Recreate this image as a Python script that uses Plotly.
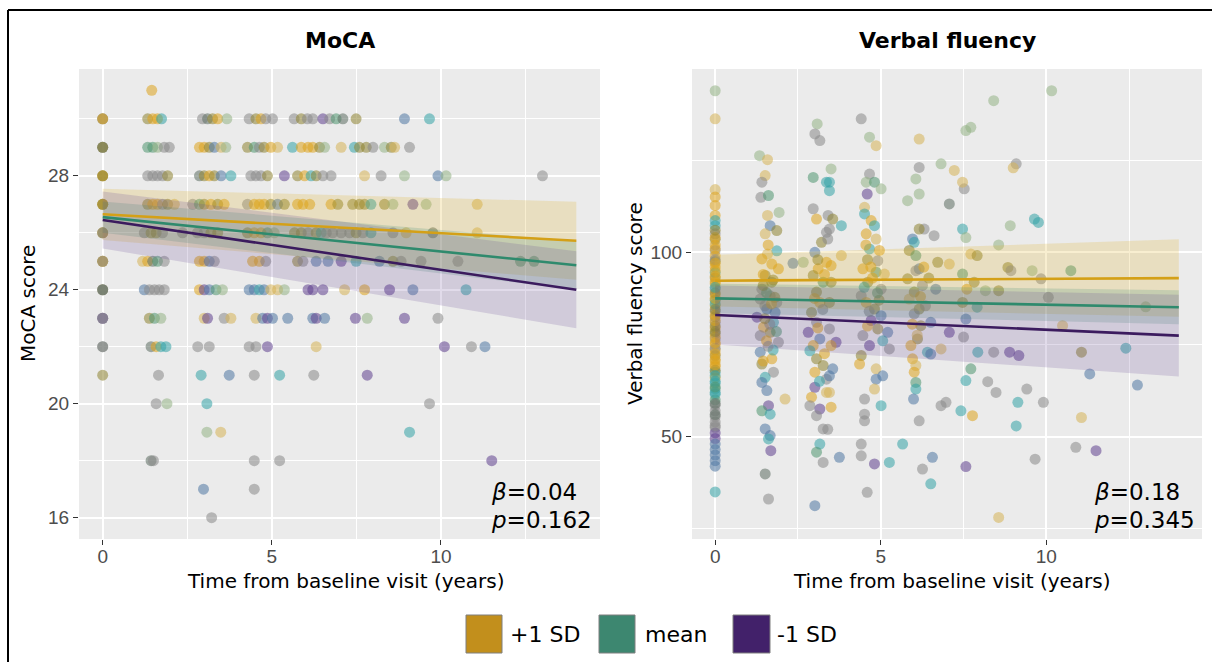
import plotly.graph_objects as go

# ---------------- data ----------------
# MoCA: for each score, the times (years) of the observations and the colour code of each one
moca_rows = {
    31: ([1.45], "g"),
    30: ([0, 0, 0, 1.33, 1.48, 1.62, 1.74, 2.95, 3.10, 3.25, 3.40, 3.67, 4.33, 4.53, 4.68, 4.82, 5.02, 5.66,
          5.87, 6.05, 6.21, 6.51, 6.71, 6.90, 7.10, 7.49, 8.92, 9.66], "oygogg" + "tydoglyogyyyoyypyedobt"),
    29: ([0, 0, 0, 1.33, 1.48, 1.62, 1.82, 1.97, 2.86, 3.0, 3.15, 3.30, 3.50, 3.64, 4.28, 4.48, 4.63, 4.77,
          4.97, 5.17, 5.61, 5.87, 6.07, 6.21, 6.41, 6.56, 7.05, 7.44, 7.59, 7.79, 7.99, 8.33, 8.53, 8.63, 9.07],
         "ydoeelyyggobnloeyogntgggolntooylony"),
    28: ([0, 0, 0, 1.33, 1.48, 1.62, 1.77, 1.92, 2.86, 3.0, 3.15, 3.30, 3.50, 3.79, 4.38, 4.53, 4.68, 4.87,
          5.37, 5.76, 5.97, 6.16, 6.31, 6.51, 6.75, 7.74, 8.23, 8.92, 9.91, 10.15, 13.0],
         "ogoyyyyodogobtyyyopogtoyynylbly"),
    27: ([0, 0, 0, 1.33, 1.48, 1.62, 1.77, 1.92, 2.12, 2.66, 2.86, 3.0, 3.20, 3.40, 3.59, 4.28, 4.48, 4.63,
          4.77, 4.97, 5.17, 5.37, 5.76, 5.92, 6.12, 6.75, 6.95, 7.39, 7.59, 7.74, 7.93, 8.33, 8.58, 9.17,
          9.56, 11.07], "ogooggyonyeogogygggoboggggooootolpln"),
    26: ([0, 0, 0, 1.23, 1.43, 1.58, 1.77, 2.36, 2.8, 3.0, 3.2, 3.4, 4.28, 4.48, 4.68, 4.87, 5.07, 5.67,
          5.87, 6.07, 6.31, 6.46, 6.61, 6.80, 7.05, 7.30, 7.49, 7.69, 7.93, 8.58, 8.97, 9.76, 11.07],
         "goyyooyyyyoooggelooyotyyyyoytyndn"),
    25: ([0, 0, 0, 1.18, 1.33, 1.48, 1.62, 1.82, 2.86, 3.0, 3.15, 3.30, 4.43, 4.63, 4.82, 5.76, 5.92, 6.31,
          6.66, 7.05, 7.49, 8.18, 8.58, 8.82, 9.41, 10.5, 12.35, 12.75], "ogyngdeyggbyggyoybbptboyyyee"),
    24: ([0, 0, 0, 1.23, 1.38, 1.53, 1.67, 1.82, 2.86, 3.0, 3.15, 3.35, 3.54, 4.33, 4.48, 4.63, 4.77, 4.97,
          5.17, 5.37, 6.07, 6.21, 6.51, 7.15, 7.74, 8.48, 9.17, 10.74], "oydbyyyygpbelbbtbnnlpppngpbt"),
    23: ([0, 0, 0, 1.38, 1.53, 1.72, 3.0, 3.1, 3.59, 3.79, 4.53, 4.73, 4.87, 5.02, 5.47, 6.21, 6.31, 6.56,
          7.47, 7.82, 8.92, 9.91], "ypyoelnpynnbpbbbpbplpy"),
    22: ([0, 0, 1.43, 1.58, 1.72, 1.87, 2.81, 3.15, 4.33, 4.53, 4.87, 6.31, 10.1, 10.9, 11.3], "dydgttyyyypnpyb"),
    21: ([0, 1.65, 2.91, 3.74, 4.48, 5.23, 6.24, 7.82], "oytbytyp"),
    20: ([1.58, 1.9, 3.08, 9.66], "ylty"),
    19: ([3.08, 3.49, 9.07], "lnt"),
    18: ([1.43, 1.5, 4.48, 5.23, 11.5], "dyyyp"),
    17: ([2.98, 4.48], "by"),
    16: ([3.22], "y"),
}

# Verbal fluency: (time in years, score, colour code) per visit wave
vf_baseline_scores = [143.8, 136.2, 117, 115, 112.7, 110, 108.6, 107.2,
                      105, 103.5, 102, 100.5, 99, 97.5, 96, 94.5, 93, 91.5, 90, 88.5, 87, 85.5, 84, 82.5, 81,
                      79.5, 78, 76.5, 75, 73.5, 72, 70.5, 69, 67.5, 66, 64.5, 63, 61.5, 60, 58.5, 57, 55.5,
                      54, 52.5, 51, 49.5, 46.5, 45, 43.5, 42, 35,
                      104, 98, 95, 92, 89, 86, 83, 80, 77, 74, 71, 68, 65, 62, 56, 53,
                      106, 101, 97, 93.5, 90.5, 87.5, 84.5, 81.5, 78.5, 75.5, 72.5, 69.5, 66.5, 63.5, 59, 48]
vf_baseline_codes = ("lnngggtt" + "yogygogtogygegyoygoyggoggtgteteyyyyyppbbbbt"
                     + "gyggotgogygottdy" + "ogggtgogogggtedb")

vf_wave_1_5 = [(1.34, 126.2, "l"), (1.58, 125.1, "n"), (1.51, 120.8, "n"), (1.41, 119, "y"), (1.38, 114.9, "y"),
               (1.61, 115.4, "e"), (1.93, 110.8, "l"), (1.58, 110, "n"), (1.66, 107.2, "b"), (1.86, 105.9, "o"),
               (1.51, 105, "n"), (1.86, 100.4, "t"), (1.58, 99.5, "n"), (1.41, 98.2, "g"), (1.71, 96.8, "g"),
               (1.91, 95.5, "g"), (1.51, 93.7, "o"), (1.71, 91.9, "o"), (1.41, 90, "y"), (1.66, 88.2, "y"),
               (1.36, 87.3, "y"), (1.86, 86.4, "y"), (1.56, 84.6, "b"), (1.81, 83.7, "b"), (1.26, 82.4, "p"),
               (1.76, 81, "t"), (1.46, 79.7, "g"), (1.66, 78.3, "o"), (1.36, 77.4, "y"), (1.91, 75.6, "y"),
               (1.36, 72.9, "b"), (1.71, 71.1, "g"), (1.41, 69.7, "o"), (1.76, 67.5, "y"), (1.51, 66.1, "t"),
               (1.41, 64.7, "b"), (1.56, 62.5, "b"), (2.11, 60.2, "n"), (1.61, 58.4, "p"), (1.41, 57, "e"),
               (1.66, 56.1, "t"), (1.51, 52.1, "b"), (1.66, 50.3, "b"), (1.61, 49.4, "t"), (1.68, 46.2, "p"),
               (1.51, 39.9, "d"), (1.61, 33.1, "y"), (1.45, 94, "g"), (1.75, 92.5, "o"), (1.55, 89, "e"),
               (1.8, 87.8, "o"), (1.5, 85.5, "y"), (1.65, 80.5, "y"), (1.55, 76, "g"), (1.75, 73.5, "t"),
               (2.35, 97, "b"), (2.66, 97.3, "l"), (1.6, 102, "g"), (1.45, 91, "o"), (1.7, 86, "g"),
               (1.5, 82, "o"), (1.85, 78.5, "e"), (1.6, 74.5, "y"), (1.45, 70.5, "g")]

vf_wave_3 = [(3.08, 134.8, "l"), (3.01, 132.1, "y"), (3.16, 130.3, "y"), (2.96, 120.3, "e"), (3.36, 119, "t"),
             (2.96, 111.8, "y"), (3.06, 109, "g"), (3.41, 110, "y"), (3.36, 105.4, "y"), (3.21, 102.7, "o"),
             (3.01, 100, "b"), (3.36, 97.3, "g"), (3.11, 95.5, "g"), (2.96, 93.7, "o"), (3.26, 91.9, "e"),
             (3.06, 89.2, "o"), (3.16, 86.4, "g"), (2.91, 83.7, "o"), (3.06, 81, "y"), (2.81, 78.3, "p"),
             (3.16, 76.5, "b"), (2.96, 74.7, "g"), (2.86, 73.3, "t"), (3.06, 71.1, "o"), (3.26, 69.3, "o"),
             (3.01, 67.5, "g"), (3.36, 65.6, "y"), (3.01, 63.4, "p"), (3.36, 62, "n"), (2.91, 60.7, "g"),
             (2.86, 58.4, "y"), (3.16, 57.5, "p"), (3.06, 55.7, "y"), (3.26, 52.1, "y"), (3.16, 48, "t"),
             (3.06, 45.8, "e"), (3.26, 43, "y"), (3.01, 31.3, "b"),
             (3.5, 122.6, "l"), (3.45, 119, "t"), (3.45, 116.7, "t"), (3.55, 109, "o"), (3.81, 107.2, "t"),
             (3.45, 106.3, "y"), (3.40, 103.6, "y"), (3.81, 99.1, "n"), (3.5, 96.4, "g"), (3.5, 91.9, "o"),
             (3.45, 86.4, "o"), (3.45, 79.2, "y"), (3.65, 75.6, "p"), (3.5, 74.7, "g"), (3.55, 68.4, "b"),
             (3.45, 66.5, "b"), (3.45, 62, "n"), (3.5, 58, "g"), (3.40, 52, "y"), (3.75, 44.4, "b"),
             (3.1, 98, "o"), (3.3, 94, "g"), (3.0, 87.5, "g"), (3.25, 84.5, "y"), (3.1, 79.5, "g"),
             (3.3, 72.5, "g"), (3.15, 65, "t")]

vf_wave_4_5 = [(4.41, 136.2, "y"), (4.66, 131.2, "l"), (4.86, 128.9, "n"), (4.66, 121.2, "y"), (4.56, 119, "l"),
               (4.81, 119, "e"), (5.01, 117.2, "l"), (4.59, 115.8, "p"), (4.51, 112.2, "n"), (4.51, 110.4, "t"),
               (4.71, 108.6, "g"), (4.81, 107.2, "t"), (4.56, 105, "g"), (4.86, 103.6, "n"), (4.66, 100.9, "t"),
               (4.96, 100.5, "g"), (4.91, 97.7, "y"), (4.46, 95.5, "g"), (4.86, 94.6, "e"), (5.11, 94.1, "n"),
               (4.61, 91.9, "o"), (5.01, 90, "y"), (4.41, 88.2, "y"), (4.56, 86.4, "g"), (4.81, 84.6, "o"),
               (5.01, 82.8, "b"), (4.71, 81.5, "p"), (4.91, 79.2, "o"), (5.21, 78.3, "b"), (4.46, 77.4, "y"),
               (5.06, 76, "t"), (4.66, 74.7, "p"), (5.26, 73.8, "y"), (4.41, 72, "o"), (4.36, 69.7, "g"),
               (4.86, 68.4, "n"), (5.06, 66.5, "b"), (4.86, 65.6, "b"), (4.81, 62.9, "n"), (4.51, 60.2, "y"),
               (5.01, 58.4, "t"), (4.51, 56.1, "y"), (4.51, 54.3, "y"), (4.41, 48, "y"), (4.41, 44.8, "y"),
               (4.81, 42.6, "p"), (5.26, 43, "t"), (4.59, 34.9, "y"),
               (4.6, 98, "o"), (4.75, 93, "g"), (4.5, 90.5, "t"), (4.95, 87, "o"), (4.65, 84, "y"),
               (4.55, 102, "g"), (4.7, 96, "g"), (4.9, 89, "e"), (4.6, 80, "g")]

vf_wave_6 = [(6.16, 130.7, "n"), (6.16, 123, "y"), (6.82, 124, "l"), (7.22, 122.2, "n"), (6.06, 119.9, "l"),
             (6.16, 115.8, "l"), (5.81, 114, "l"), (7.07, 113.1, "d"), (7.52, 117.2, "y"), (6.31, 106.3, "y"),
             (6.16, 106.3, "o"), (5.96, 103.6, "b"), (6.01, 102.7, "t"), (6.61, 104.5, "y"), (5.86, 100.5, "o"),
             (6.06, 99.1, "e"), (6.16, 95.5, "b"), (6.06, 95, "y"), (6.72, 97.3, "o"), (7.07, 96.8, "n"),
             (5.81, 92.8, "o"), (6.26, 91, "y"), (6.66, 90, "b"), (6.01, 89.2, "o"), (5.86, 87.3, "n"),
             (6.16, 84.6, "o"), (6.01, 83.3, "y"), (6.51, 81, "b"), (6.21, 80.1, "o"), (7.07, 78.3, "p"),
             (6.11, 76.5, "o"), (5.91, 74.7, "g"), (6.82, 73.8, "n"), (6.41, 72.9, "t"), (6.51, 72.4, "b"),
             (5.96, 71.1, "g"), (6.06, 69.3, "n"), (6.01, 67.5, "g"), (6.06, 64.7, "e"), (6.06, 62.9, "t"),
             (5.99, 60.2, "b"), (6.97, 59.3, "y"), (6.82, 58.4, "y"), (6.16, 54.3, "y"), (6.26, 41.2, "y"),
             (6.56, 44.4, "b"), (6.51, 37.2, "t"), (5.66, 48, "t"),
             (6.3, 96, "g"), (6.45, 93, "o"), (6.2, 88, "g"), (6.35, 85.5, "y"), (5.95, 80.5, "g"),
             (6.1, 77.5, "n")]

vf_wave_7_5 = [(7.57, 133, "l"), (7.72, 133.9, "l"), (7.47, 119, "n"), (7.47, 106.3, "t"), (7.57, 104, "l"),
               (7.72, 99.5, "n"), (7.47, 94.1, "e"), (7.82, 91.9, "o"), (7.47, 86.4, "o"), (7.57, 81.9, "b"),
               (7.72, 68.4, "e"), (7.57, 65.2, "t"), (7.42, 57, "t"), (7.77, 55.7, "g"), (7.57, 41.9, "p"),
               (7.6, 90, "g"), (7.5, 77, "y")]

vf_later = [(8.41, 141.1, "l"), (10.16, 143.8, "l"), (9.09, 124, "y"), (9.0, 122.9, "n"), (9.64, 109, "t"),
            (9.76, 108.1, "t"), (8.91, 107.2, "l"), (8.56, 102, "l"), (7.91, 99.1, "o"), (8.84, 95.9, "o"),
            (8.93, 95, "y"), (9.57, 95, "l"), (10.74, 95, "e"), (9.84, 92.8, "y"), (8.16, 89.6, "l"),
            (8.56, 89.6, "o"), (10.06, 87.8, "y"), (7.91, 85.1, "t"), (10.49, 80.1, "n"), (7.93, 72.9, "t"),
            (8.41, 72.9, "y"), (8.89, 72.9, "p"), (9.17, 72, "p"), (11.06, 72.9, "o"), (11.31, 67, "b"),
            (8.23, 64.9, "y"), (8.48, 62, "y"), (9.41, 62.9, "y"), (9.14, 59.3, "t"), (9.91, 59.3, "y"),
            (11.06, 55.2, "n"), (9.09, 52.9, "t"), (10.89, 47.1, "y"), (11.5, 46.2, "p"), (9.66, 43.9, "y"),
            (8.56, 28.1, "n"), (13.0, 85.2, "l"), (12.4, 74, "t"), (12.75, 64, "b")]

# regression estimates and 95% CI ribbons per moderator level
levels = ["+1 SD", "mean", "-1 SD"]
fit_time = [0, 14]
moca_fit = [[26.65, 25.72], [26.55, 24.86], [26.45, 24.0]]
moca_lo = [[25.75, 24.35], [26.0, 24.0], [25.45, 22.65]]
moca_hi = [[27.55, 27.09], [27.1, 25.7], [27.45, 25.35]]
vf_fit = [[92.3, 93.0], [87.5, 85.1], [83.0, 77.4]]
vf_lo = [[85.3, 82.5], [83.5, 80.5], [75.0, 66.3]]
vf_hi = [[99.3, 103.5], [91.5, 89.7], [91.0, 88.5]]

stats_text = [("0.04", "0.162"), ("0.18", "0.345")]
panel_titles = ["MoCA", "Verbal fluency"]
y_titles = ["MoCA score", "Verbal fluency score"]
x_title = "Time from baseline visit (years)"

# ---------------- styles ----------------
line_colors = ["#D4A017", "#2F8A6D", "#3B1B5E"]
fill_colors = ["rgba(222,176,40,0.22)", "rgba(60,140,115,0.20)", "rgba(104,74,150,0.20)"]
legend_colors = ["#C28F1C", "#3D8770", "#42216A"]
point_palette = {
    "g": "#DCA21C", "n": "#D6B356", "o": "#8E8432", "l": "#93B385", "e": "#4F9670",
    "t": "#33A3A6", "b": "#4F77A3", "p": "#5E3F8E", "y": "#888888", "d": "#5C6E62",
}

# ---------------- build point lists ----------------
moca_time, moca_score, moca_cols = [], [], []
for score, (times, codes) in moca_rows.items():
    for i, t in enumerate(times):
        moca_time.append(t)
        moca_score.append(score)
        moca_cols.append(point_palette[codes[i] if i < len(codes) else "y"])

vf_time, vf_score, vf_cols = [], [], []
for i, s in enumerate(vf_baseline_scores):
    vf_time.append(0)
    vf_score.append(s)
    vf_cols.append(point_palette[vf_baseline_codes[i] if i < len(vf_baseline_codes) else "y"])
for wave in [vf_wave_1_5, vf_wave_3, vf_wave_4_5, vf_wave_6, vf_wave_7_5, vf_later]:
    for t, s, c in wave:
        vf_time.append(t)
        vf_score.append(s)
        vf_cols.append(point_palette[c])

# ---------------- figure ----------------
W, H = 1212, 662
def px(x):
    return x / W
def py(y):
    return 1 - y / H

fig = go.Figure()
fig.add_trace(go.Scatter(x=moca_time, y=moca_score, mode="markers", xaxis="x", yaxis="y",
                         marker=dict(size=11, color=moca_cols, opacity=0.55, line=dict(width=0)),
                         showlegend=False, hoverinfo="skip"))
fig.add_trace(go.Scatter(x=vf_time, y=vf_score, mode="markers", xaxis="x2", yaxis="y2",
                         marker=dict(size=11, color=vf_cols, opacity=0.55, line=dict(width=0)),
                         showlegend=False, hoverinfo="skip"))

for ax, ya, lo, hi in [("x", "y", moca_lo, moca_hi), ("x2", "y2", vf_lo, vf_hi)]:
    for i in range(3):
        fig.add_trace(go.Scatter(x=fit_time + fit_time[::-1], y=hi[i] + lo[i][::-1],
                                 fill="toself", fillcolor=fill_colors[i], mode="none",
                                 xaxis=ax, yaxis=ya, showlegend=False, hoverinfo="skip"))
for ax, ya, fit in [("x", "y", moca_fit), ("x2", "y2", vf_fit)]:
    for i in range(3):
        fig.add_trace(go.Scatter(x=fit_time, y=fit[i], mode="lines",
                                 line=dict(color=line_colors[i], width=2.6),
                                 xaxis=ax, yaxis=ya, showlegend=False, hoverinfo="skip"))

tickfont = dict(family="Liberation Sans, Arial, sans-serif", size=19, color="#4D4D4D")
common_x = dict(range=[-0.7, 14.7], tick0=0, dtick=5, showgrid=True, gridcolor="white", gridwidth=1.6,
                minor=dict(dtick=2.5, showgrid=True, gridcolor="white", gridwidth=0.7),
                zeroline=False, showline=False, ticks="outside", ticklen=5, tickwidth=1.2,
                tickcolor="#333333", tickfont=tickfont, ticklabelstandoff=-5)
common_y = dict(showgrid=True, gridcolor="white", gridwidth=1.6, zeroline=False, showline=False,
                ticks="outside", ticklen=5, tickwidth=1.2, tickcolor="#333333", tickfont=tickfont,
                ticklabelstandoff=0)
ydom = [py(539), py(69)]
fig.update_layout(
    width=W, height=H, margin=dict(l=0, r=0, t=0, b=0),
    paper_bgcolor="white", plot_bgcolor="#EBEBEB", showlegend=False,
    xaxis=dict(domain=[px(79), px(600)], anchor="y", **common_x),
    yaxis=dict(domain=ydom, anchor="x", range=[15.25, 31.75], tick0=0, dtick=4,
               minor=dict(dtick=2, showgrid=True, gridcolor="white", gridwidth=0.7), **common_y),
    xaxis2=dict(domain=[px(692), px(1202)], anchor="y2", **common_x),
    yaxis2=dict(domain=ydom, anchor="x2", range=[22.25, 149.7], tick0=0, dtick=50,
                minor=dict(dtick=25, showgrid=True, gridcolor="white", gridwidth=0.7), **common_y),
)

font_main = "DejaVu Sans, Verdana, sans-serif"
ann = []
for cx, t in zip([339.5, 947], panel_titles):
    ann.append(dict(x=px(cx), y=py(41), xref="paper", yref="paper", text="<b>" + t + "</b>",
                    showarrow=False, xanchor="center", yanchor="middle",
                    font=dict(family=font_main, size=22, color="black")))
for cx in [346, 952]:
    ann.append(dict(x=px(cx), y=py(581), xref="paper", yref="paper", text=x_title,
                    showarrow=False, xanchor="center", yanchor="middle",
                    font=dict(family=font_main, size=20, color="black")))
for cx, t in zip([28, 635], y_titles):
    ann.append(dict(x=px(cx), y=py(304), xref="paper", yref="paper", text=t, textangle=-90,
                    showarrow=False, xanchor="center", yanchor="middle",
                    font=dict(family=font_main, size=20, color="black")))
for lx, (b, p) in zip([489, 1092], stats_text):
    ann.append(dict(x=px(lx), y=py(492), xref="paper", yref="paper", text="<i>β</i>=" + b,
                    showarrow=False, xanchor="left", yanchor="middle", align="left",
                    font=dict(family=font_main, size=23, color="black")))
    ann.append(dict(x=px(lx), y=py(520), xref="paper", yref="paper", text="<i>p</i>=" + p,
                    showarrow=False, xanchor="left", yanchor="middle", align="left",
                    font=dict(family=font_main, size=23, color="black")))

shapes = []
leg_boxes = [(466, 502), (599, 635), (733, 770)]
leg_text_x = [508, 643, 775]
for (x0, x1), tx, col, lab in zip(leg_boxes, leg_text_x, legend_colors, levels):
    shapes.append(dict(type="rect", xref="paper", yref="paper", x0=px(x0), x1=px(x1),
                       y0=py(653), y1=py(615), fillcolor=col, line=dict(color="#7F7F7F", width=1)))
    ann.append(dict(x=px(tx), y=py(634), xref="paper", yref="paper", text=lab, showarrow=False,
                    xanchor="left", yanchor="middle", font=dict(family=font_main, size=22, color="black")))

# frame lines (left and top)
shapes.append(dict(type="line", xref="paper", yref="paper", x0=px(8), x1=px(8), y0=py(10), y1=0,
                   line=dict(color="black", width=2)))
shapes.append(dict(type="line", xref="paper", yref="paper", x0=px(8), x1=1, y0=py(10), y1=py(10),
                   line=dict(color="black", width=2)))

fig.update_layout(annotations=ann, shapes=shapes)
fig.write_html("out.html")
